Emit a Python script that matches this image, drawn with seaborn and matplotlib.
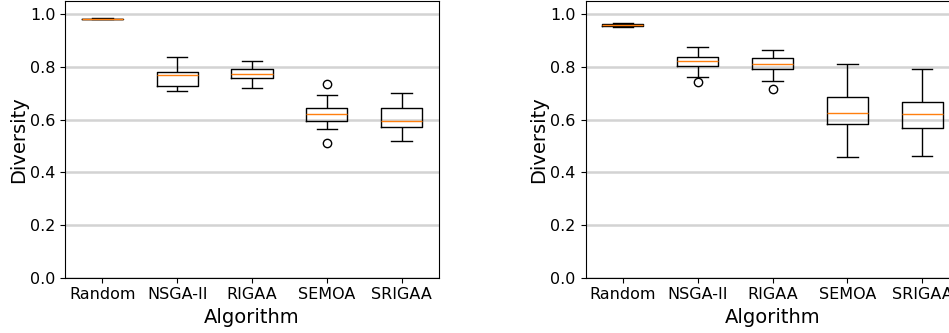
import numpy as np
import pandas as pd
import matplotlib
matplotlib.use("Agg")
import matplotlib.pyplot as plt
import seaborn as sns

algorithms = ["Random", "NSGA-II", "RIGAA", "SEMOA", "SRIGAA"]

# diversity samples (left panel)
left_random = [0.981, 0.982, 0.9825, 0.983, 0.983, 0.9835, 0.984, 0.9845, 0.985]
left_nsga = [0.710, 0.722, 0.730, 0.750, 0.769, 0.775, 0.782, 0.805, 0.839]
left_rigaa = [0.719, 0.745, 0.759, 0.766, 0.773, 0.782, 0.791, 0.805, 0.824]
left_semoa = [0.511, 0.563, 0.594, 0.607, 0.620, 0.633, 0.646, 0.695, 0.734]
left_srigaa = [0.520, 0.550, 0.572, 0.585, 0.596, 0.620, 0.644, 0.675, 0.703]

# right panel
right_random = [0.953, 0.956, 0.958, 0.960, 0.961, 0.962, 0.964, 0.966, 0.969]
right_nsga = [0.745, 0.764, 0.803, 0.815, 0.824, 0.832, 0.838, 0.855, 0.875]
right_rigaa = [0.716, 0.746, 0.793, 0.803, 0.813, 0.823, 0.833, 0.850, 0.866]
right_semoa = [0.459, 0.520, 0.583, 0.600, 0.625, 0.650, 0.688, 0.750, 0.813]
right_srigaa = [0.463, 0.520, 0.570, 0.600, 0.622, 0.645, 0.668, 0.730, 0.791]


def make_df(samples):
    rows = []
    for name, vals in zip(algorithms, samples):
        for v in vals:
            rows.append({"Algorithm": name, "Diversity": v})
    return pd.DataFrame(rows)


df_left = make_df([left_random, left_nsga, left_rigaa, left_semoa, left_srigaa])
df_right = make_df([right_random, right_nsga, right_rigaa, right_semoa, right_srigaa])

fig = plt.figure(figsize=(9.49, 3.33), dpi=100)
W, H = 949, 333
ax1 = fig.add_axes([65 / W, (H - 277.7) / H, 374 / W, 276.4 / H])
# the right panel runs past the figure edge, as in the source image
ax2 = fig.add_axes([585.5 / W, (H - 277.7) / H, 374 / W, 276.4 / H])

for ax, df in [(ax1, df_left), (ax2, df_right)]:
    sns.boxplot(data=df, x="Algorithm", y="Diversity", ax=ax, fill=False,
                color="black", linewidth=1, width=0.55, whis=1.5,
                medianprops={"color": "#ff7f0e", "linewidth": 1},
                flierprops={"marker": "o", "markerfacecolor": "none",
                            "markeredgecolor": "black", "markersize": 6})
    ax.set_ylim(0, 1.05)
    ax.set_xlim(-0.5, 4.5)
    ax.set_yticks([0.0, 0.2, 0.4, 0.6, 0.8, 1.0])
    ax.yaxis.grid(True, color="#d3d3d3", linewidth=1.8)
    ax.set_axisbelow(True)
    ax.tick_params(labelsize=11.5)
    ax.set_xlabel("Algorithm", fontsize=14)
    ax.set_ylabel("Diversity", fontsize=14, labelpad=1.5)

fig.savefig("out.png", dpi=100)
